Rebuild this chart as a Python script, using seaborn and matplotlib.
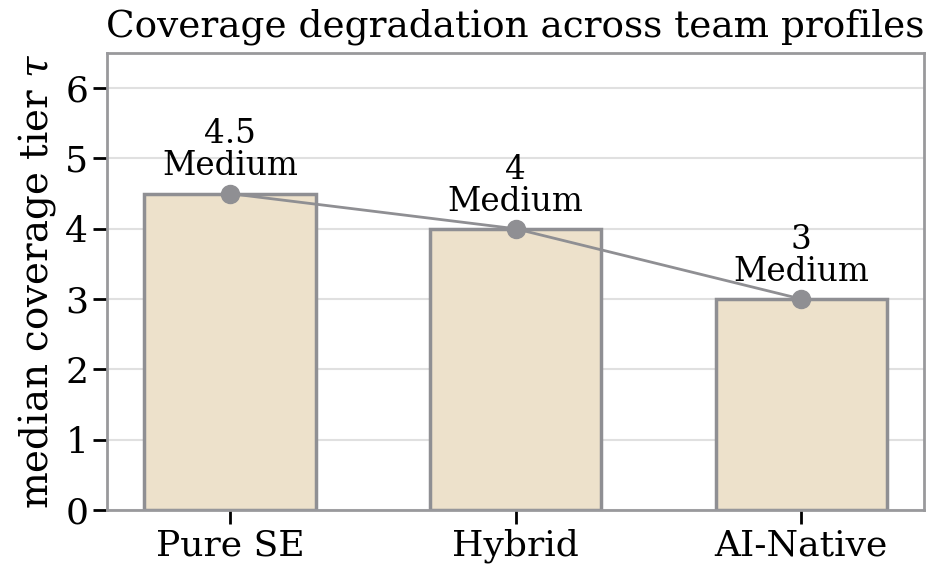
import numpy as np
import pandas as pd
import matplotlib
matplotlib.use('Agg')
import matplotlib.pyplot as plt
import seaborn as sns

profiles = ['Pure SE', 'Hybrid', 'AI-Native']
median_tier = [4.5, 4, 3]
tier_names = ['Medium', 'Medium', 'Medium']

df = pd.DataFrame({'profile': profiles, 'tier': median_tier})

sns.set_style('ticks')
plt.rcParams['font.family'] = ['DejaVu Serif']
plt.rcParams['mathtext.fontset'] = 'dejavuserif'
plt.rcParams['text.color'] = 'black'
plt.rcParams['axes.labelcolor'] = 'black'
plt.rcParams['xtick.color'] = 'black'
plt.rcParams['ytick.color'] = 'black'

fig, ax = plt.subplots(figsize=(9.27, 5.76), dpi=100)
fig.subplots_adjust(left=0.1154, right=0.997, bottom=0.1146, top=0.908)

sns.barplot(data=df, x='profile', y='tier', color='#ede1cb', width=0.6,
            edgecolor='#8f8f93', linewidth=2.5, saturation=1, ax=ax, zorder=2)
ax.plot(range(len(profiles)), median_tier, color='#8f8f93', lw=2,
        marker='o', markersize=13, zorder=4)

for i, (v, name) in enumerate(zip(median_tier, tier_names)):
    ax.annotate(f'{v:g}\n{name}', (i, v), xytext=(0, 8), textcoords='offset points',
                ha='center', va='bottom', fontsize=23.5, linespacing=1.0, color='black')

ax.set_ylim(0, 6.5)
ax.set_xlim(-0.43, 2.43)
ax.set_yticks(range(0, 7))
ax.yaxis.grid(True, color='#e0e0e0', lw=1.5, zorder=0)
ax.set_axisbelow(True)
for s in ax.spines.values():
    s.set_color('#99999c')
    s.set_linewidth(2)
ax.tick_params(axis='both', labelsize=26, length=10, width=2, color='black')
ax.set_xlabel('')
ax.set_ylabel(r'median coverage tier $\tau$', fontsize=28, labelpad=5)
ax.set_title('Coverage degradation across team profiles', fontsize=26.9, pad=12)

plt.savefig('out.png', dpi=100)
